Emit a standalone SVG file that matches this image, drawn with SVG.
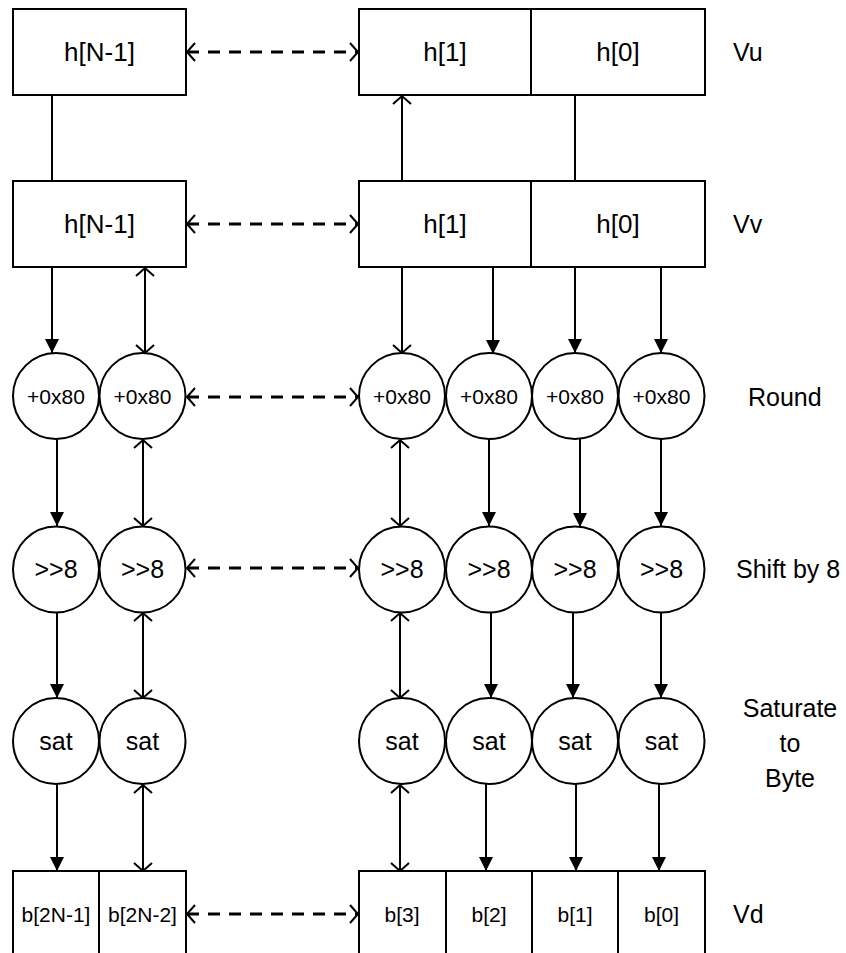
<svg xmlns="http://www.w3.org/2000/svg" width="846" height="953" viewBox="0 0 846 953">
<style>
.box{fill:#fff;stroke:#000;stroke-width:2}
.node{fill:#fff;stroke:#000;stroke-width:2}
.t{font-family:"Liberation Sans",Arial,sans-serif;font-size:25px;fill:#000;text-anchor:middle}
.th{font-size:26px}
.ts{font-size:21px}
.tb{font-size:21px}
.lbl{font-family:"Liberation Sans",Arial,sans-serif;font-size:25px;fill:#000}
.c{stroke:#000;stroke-width:2;fill:none}
.f{marker-end:url(#fa)}
.o2{marker-start:url(#oa);marker-end:url(#oa)}
.o1{marker-end:url(#oa)}
.d{stroke:#000;stroke-width:3;fill:none;stroke-dasharray:12 9;marker-start:url(#oa);marker-end:url(#oa)}
</style>
<defs>
<marker id="fa" markerUnits="userSpaceOnUse" markerWidth="16" markerHeight="16" refX="14" refY="7" orient="auto"><path d="M0,0 L14,7 L0,14 z" fill="#000"/></marker>
<marker id="oa" markerUnits="userSpaceOnUse" markerWidth="12" markerHeight="22" refX="9" refY="10" orient="auto-start-reverse"><path d="M1,1 L9,10 L1,19" fill="none" stroke="#000" stroke-width="2"/></marker>
</defs>
<rect width="846" height="953" fill="#fff"/>

<g id="connectors">
<line class="c" x1="52" y1="95" x2="52" y2="181"/>
<line class="c o1" x1="402" y1="181" x2="402" y2="96"/>
<line class="c" x1="575" y1="95" x2="575" y2="181"/>
<line class="c f" x1="52" y1="267" x2="52" y2="353"/>
<line class="c o2" x1="145" y1="268" x2="145" y2="353"/>
<line class="c o1" x1="402" y1="267" x2="402" y2="353"/>
<line class="c f" x1="493" y1="267" x2="493" y2="354"/>
<line class="c f" x1="575" y1="267" x2="575" y2="353"/>
<line class="c f" x1="661" y1="267" x2="661" y2="353"/>
<line class="c f" x1="57" y1="439" x2="57" y2="526"/>
<line class="c o2" x1="143" y1="440" x2="143" y2="526"/>
<line class="c o2" x1="400" y1="440" x2="400" y2="526"/>
<line class="c f" x1="489" y1="439" x2="489" y2="526"/>
<line class="c f" x1="580" y1="439" x2="580" y2="527"/>
<line class="c f" x1="661" y1="439" x2="661" y2="526"/>
<line class="c f" x1="57" y1="612" x2="57" y2="698"/>
<line class="c o2" x1="143" y1="613" x2="143" y2="698"/>
<line class="c o2" x1="400" y1="613" x2="400" y2="698"/>
<line class="c f" x1="491" y1="612" x2="491" y2="698"/>
<line class="c f" x1="573" y1="612" x2="573" y2="698"/>
<line class="c f" x1="661" y1="612" x2="661" y2="698"/>
<line class="c f" x1="57" y1="784" x2="57" y2="871"/>
<line class="c o2" x1="143" y1="785" x2="143" y2="871"/>
<line class="c o2" x1="400" y1="785" x2="400" y2="871"/>
<line class="c f" x1="486" y1="784" x2="486" y2="871"/>
<line class="c f" x1="576" y1="784" x2="576" y2="871"/>
<line class="c f" x1="659" y1="784" x2="659" y2="871"/>
<line class="d" x1="187" y1="52" x2="358" y2="52"/>
<line class="d" x1="187" y1="224" x2="358" y2="224"/>
<line class="d" x1="187" y1="397" x2="358" y2="397"/>
<line class="d" x1="187" y1="568" x2="358" y2="568"/>
<line class="d" x1="187" y1="914" x2="358" y2="914"/>
</g>

<g id="vu-hN1"><rect class="box" x="13" y="9" width="173" height="86"/><text class="t th" x="99.5" y="61">h[N-1]</text></g>
<g id="vu-h1"><rect class="box" x="359" y="9" width="172" height="86"/><text class="t th" x="445" y="61">h[1]</text></g>
<g id="vu-h0"><rect class="box" x="531" y="9" width="174" height="86"/><text class="t th" x="618" y="61">h[0]</text></g>

<g id="vv-hN1"><rect class="box" x="13" y="181" width="173" height="86"/><text class="t th" x="99.5" y="233">h[N-1]</text></g>
<g id="vv-h1"><rect class="box" x="359" y="181" width="172" height="86"/><text class="t th" x="445" y="233">h[1]</text></g>
<g id="vv-h0"><rect class="box" x="531" y="181" width="174" height="86"/><text class="t th" x="618" y="233">h[0]</text></g>

<g id="rnd1"><circle class="node" cx="56" cy="396" r="43"/><text class="t ts" x="56" y="403.5">+0x80</text></g>
<g id="rnd2"><circle class="node" cx="142.5" cy="396" r="43"/><text class="t ts" x="142.5" y="403.5">+0x80</text></g>
<g id="rnd3"><circle class="node" cx="402" cy="396" r="43"/><text class="t ts" x="402" y="403.5">+0x80</text></g>
<g id="rnd4"><circle class="node" cx="489" cy="396" r="43"/><text class="t ts" x="489" y="403.5">+0x80</text></g>
<g id="rnd5"><circle class="node" cx="575" cy="396" r="43"/><text class="t ts" x="575" y="403.5">+0x80</text></g>
<g id="rnd6"><circle class="node" cx="661.5" cy="396" r="43"/><text class="t ts" x="661.5" y="403.5">+0x80</text></g>

<g id="shf1"><circle class="node" cx="56" cy="569.5" r="43"/><text class="t" x="56" y="578">&gt;&gt;8</text></g>
<g id="shf2"><circle class="node" cx="142.5" cy="569.5" r="43"/><text class="t" x="142.5" y="578">&gt;&gt;8</text></g>
<g id="shf3"><circle class="node" cx="402" cy="569.5" r="43"/><text class="t" x="402" y="578">&gt;&gt;8</text></g>
<g id="shf4"><circle class="node" cx="489" cy="569.5" r="43"/><text class="t" x="489" y="578">&gt;&gt;8</text></g>
<g id="shf5"><circle class="node" cx="575" cy="569.5" r="43"/><text class="t" x="575" y="578">&gt;&gt;8</text></g>
<g id="shf6"><circle class="node" cx="661.5" cy="569.5" r="43"/><text class="t" x="661.5" y="578">&gt;&gt;8</text></g>

<g id="sat1"><circle class="node" cx="56" cy="741" r="43"/><text class="t" x="56" y="750">sat</text></g>
<g id="sat2"><circle class="node" cx="142.5" cy="741" r="43"/><text class="t" x="142.5" y="750">sat</text></g>
<g id="sat3"><circle class="node" cx="402" cy="741" r="43"/><text class="t" x="402" y="750">sat</text></g>
<g id="sat4"><circle class="node" cx="489" cy="741" r="43"/><text class="t" x="489" y="750">sat</text></g>
<g id="sat5"><circle class="node" cx="575" cy="741" r="43"/><text class="t" x="575" y="750">sat</text></g>
<g id="sat6"><circle class="node" cx="661.5" cy="741" r="43"/><text class="t" x="661.5" y="750">sat</text></g>

<g id="vd-b2N1"><rect class="box" x="13" y="871" width="86" height="100"/><text class="t tb" x="56" y="921.5">b[2N-1]</text></g>
<g id="vd-b2N2"><rect class="box" x="99" y="871" width="87" height="100"/><text class="t tb" x="142.5" y="921.5">b[2N-2]</text></g>
<g id="vd-b3"><rect class="box" x="359" y="871" width="87" height="100"/><text class="t tb" x="402" y="921.5">b[3]</text></g>
<g id="vd-b2"><rect class="box" x="446" y="871" width="86" height="100"/><text class="t tb" x="489" y="921.5">b[2]</text></g>
<g id="vd-b1"><rect class="box" x="532" y="871" width="86" height="100"/><text class="t tb" x="575" y="921.5">b[1]</text></g>
<g id="vd-b0"><rect class="box" x="618" y="871" width="87" height="100"/><text class="t tb" x="661.5" y="921.5">b[0]</text></g>

<g id="labels">
<text class="lbl" x="733" y="61">Vu</text>
<text class="lbl" x="733" y="233">Vv</text>
<text class="lbl" x="748" y="406">Round</text>
<text class="lbl" x="736" y="578">Shift by 8</text>
<text class="lbl" x="790" y="717" text-anchor="middle">Saturate</text>
<text class="lbl" x="790" y="752" text-anchor="middle">to</text>
<text class="lbl" x="790" y="787" text-anchor="middle">Byte</text>
<text class="lbl" x="733" y="923">Vd</text>
</g>
</svg>
